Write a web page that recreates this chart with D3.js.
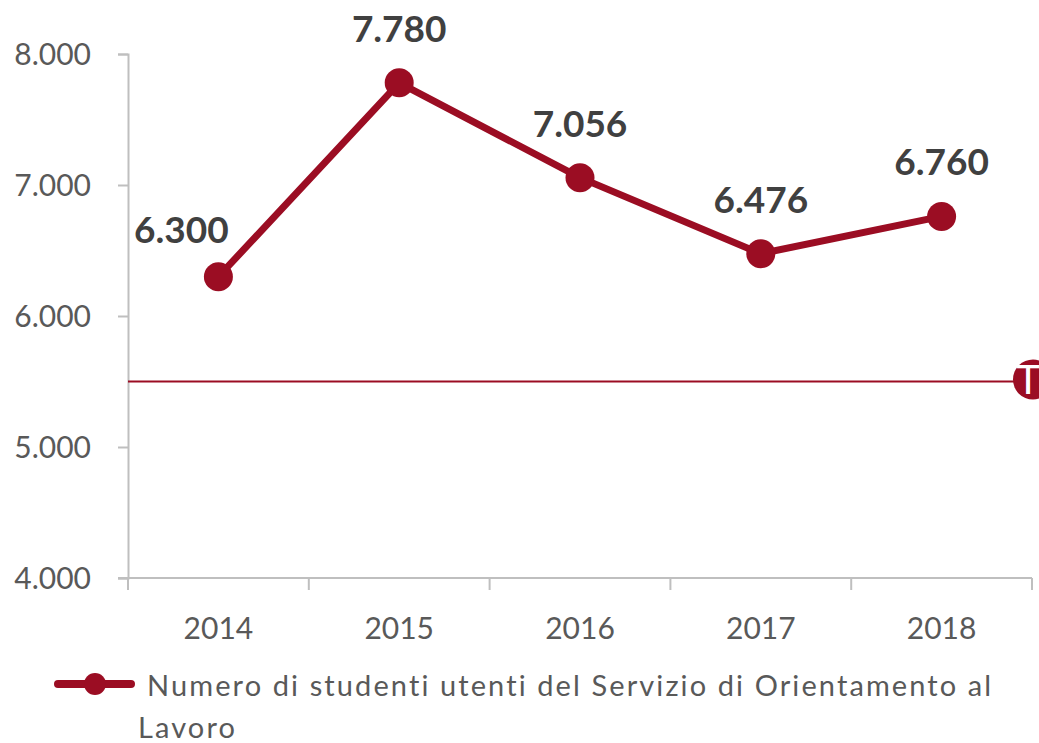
<!DOCTYPE html>
<html>
<head>
<meta charset="utf-8">
<script src="https://cdn.jsdelivr.net/npm/d3@7"></script>
<style>
  body { margin: 0; background: #fff; }
  text { font-family: Lato, "Open Sans", sans-serif; }
  .tick text { fill: #595959; font-size: 30px; }
  .domain, .tick line { stroke: #bfbfbf; stroke-width: 2; }
</style>
</head>
<body>
<div id="wrapper"></div>
<script>
// data
const years = ["2014", "2015", "2016", "2017", "2018"];
const students = [6300, 7780, 7056, 6476, 6760];
const yTicks = [4000, 5000, 6000, 7000, 8000];
const targetValue = 5500;
const seriesName = "Numero di studenti utenti del Servizio di Orientamento al";
const seriesNameCont = "Lavoro";

function drawChart() {
  const dataset = years.map((y, i) => ({ year: y, value: students[i] }));
  const xAccessor = d => d.year;
  const yAccessor = d => d.value;
  const fmt = d => d3.format(",")(d).replace(/,/g, ".");
  const red = "#9b0d23";

  // dimensions
  let dimensions = {
    width: 1039,
    height: 743,
    margin: { top: 54, right: 7, bottom: 165, left: 128 },
  };
  dimensions.boundedWidth = dimensions.width - dimensions.margin.left - dimensions.margin.right;
  dimensions.boundedHeight = dimensions.height - dimensions.margin.top - dimensions.margin.bottom;

  const wrapper = d3.select("#wrapper").append("svg")
    .attr("width", dimensions.width)
    .attr("height", dimensions.height);

  const bounds = wrapper.append("g")
    .attr("transform", `translate(${dimensions.margin.left},${dimensions.margin.top})`);

  // scales
  const xScale = d3.scaleBand()
    .domain(years)
    .range([0, dimensions.boundedWidth]);

  const yScale = d3.scaleLinear()
    .domain([4000, 8000])
    .range([dimensions.boundedHeight, 0]);

  // axes
  const yAxis = bounds.append("g")
    .call(d3.axisLeft(yScale).tickValues(yTicks).tickFormat(fmt).tickSize(10).tickPadding(27));
  yAxis.selectAll(".tick text").attr("dy", "0.36em");

  const xAxis = bounds.append("g")
    .attr("transform", `translate(0,${dimensions.boundedHeight})`)
    .call(d3.axisBottom(xScale).tickSize(0));
  xAxis.selectAll(".tick text").attr("y", 61).attr("dy", 0);

  // boundary ticks between categories
  xAxis.selectAll(".sep")
    .data(d3.range(years.length + 1))
    .join("line")
      .attr("class", "sep")
      .attr("x1", i => i * xScale.step())
      .attr("x2", i => i * xScale.step())
      .attr("y1", 0)
      .attr("y2", 12)
      .attr("stroke", "#bfbfbf")
      .attr("stroke-width", 2);

  xAxis.select(".domain").attr("d", `M-10,0H${dimensions.boundedWidth}`);

  // target line
  const ty = yScale(targetValue);
  bounds.append("line")
    .attr("x1", 0)
    .attr("x2", dimensions.boundedWidth - 18)
    .attr("y1", ty)
    .attr("y2", ty)
    .attr("stroke", red)
    .attr("stroke-width", 2);

  const tMark = bounds.append("g")
    .attr("transform", `translate(${dimensions.boundedWidth + 1},${ty - 2})`);
  tMark.append("circle")
    .attr("r", 20)
    .attr("fill", red);
  tMark.append("text")
    .attr("x", -5)
    .attr("text-anchor", "middle")
    .attr("dy", "0.36em")
    .attr("fill", "#fff")
    .style("font-size", "40px")
    .text("T");

  // line
  const cx = d => xScale(xAccessor(d)) + xScale.bandwidth() / 2;
  const cy = d => yScale(yAccessor(d));

  bounds.append("path")
    .datum(dataset)
    .attr("fill", "none")
    .attr("stroke", red)
    .attr("stroke-width", 7)
    .attr("d", d3.line().x(cx).y(cy));

  bounds.selectAll(".dot")
    .data(dataset)
    .join("circle")
      .attr("class", "dot")
      .attr("cx", cx)
      .attr("cy", cy)
      .attr("r", 14.5)
      .attr("fill", red);

  // value labels (first one sits up-left of its point)
  bounds.selectAll(".label")
    .data(dataset)
    .join("text")
      .attr("class", "label")
      .attr("x", (d, i) => cx(d) + (i == 0 ? -37 : 0))
      .attr("y", (d, i) => cy(d) + (i == 0 ? -34 : -41))
      .attr("text-anchor", "middle")
      .attr("fill", "#404040")
      .style("font-size", "37px")
      .style("font-weight", "bold")
      .text(d => fmt(yAccessor(d)));

  // legend
  const legend = wrapper.append("g")
    .attr("transform", "translate(58,684)");
  legend.append("line")
    .attr("x1", 0).attr("x2", 73)
    .attr("stroke", red)
    .attr("stroke-width", 8)
    .attr("stroke-linecap", "round");
  legend.append("circle")
    .attr("cx", 37).attr("r", 11).attr("fill", red);
  legend.append("text")
    .attr("x", 89).attr("y", 12)
    .attr("fill", "#595959")
    .style("font-size", "29px")
    .style("letter-spacing", "2.1px")
    .text(seriesName);
  legend.append("text")
    .attr("x", 80).attr("y", 54)
    .attr("fill", "#595959")
    .style("font-size", "29px")
    .style("letter-spacing", "2.1px")
    .text(seriesNameCont);
}
drawChart();
</script>
</body>
</html>
